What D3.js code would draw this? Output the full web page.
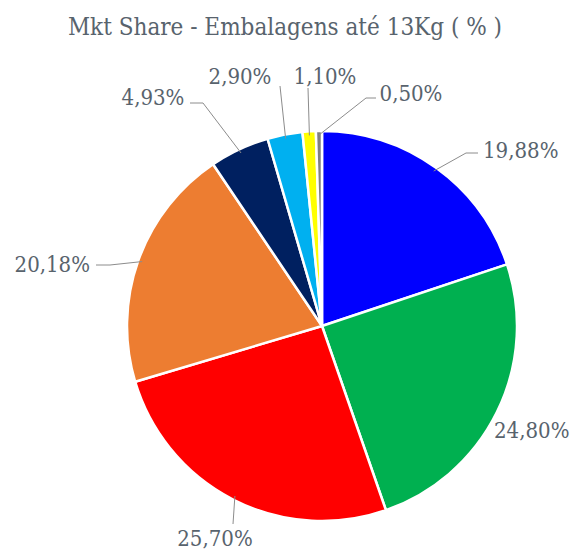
<!DOCTYPE html>
<html>
<head>
<meta charset="utf-8">
<script src="https://cdn.jsdelivr.net/npm/d3@7"></script>
<style>
  body { margin: 0; background: #fff; }
  text { font-family: "DejaVu Serif Condensed", "DejaVu Serif", serif; font-stretch: condensed; fill: #58636d; }
</style>
</head>
<body>
<div id="chart"></div>
<script>
// data
const categories = ['A', 'B', 'C', 'D', 'E', 'F', 'G', 'H'];
const shares = [19.88, 24.80, 25.70, 20.18, 4.93, 2.90, 1.10, 0.50];
const labels = ['19,88%', '24,80%', '25,70%', '20,18%', '4,93%', '2,90%', '1,10%', '0,50%'];
const colors = ['#0000ff', '#00b050', '#ff0000', '#ed7d31', '#002060', '#00b0f0', '#ffff00', '#808080'];

// label layout: text anchor point, alignment, and leader elbow (null = no leader)
const labelPos = [
  { x: 483, y: 158, anchor: 'start', elbow: [466, 153], end: [478, 153] },
  { x: 494, y: 438, anchor: 'start', elbow: null },
  { x: 215, y: 546, anchor: 'middle', elbow: [233, 524], end: [233, 524] },
  { x: 90, y: 272, anchor: 'end', elbow: [110, 265], end: [96, 265] },
  { x: 153, y: 105, anchor: 'middle', elbow: [203, 103], end: [190, 103] },
  { x: 240, y: 84, anchor: 'middle', elbow: [280, 86], end: [280, 86] },
  { x: 325, y: 84, anchor: 'middle', elbow: [308, 88], end: [308, 88] },
  { x: 411, y: 101, anchor: 'middle', elbow: [366, 98], end: [376, 98] }
];

const width = 579;
const height = 551;
const cx = 322;
const cy = 326;
const radius = 195;

const svg = d3.select('#chart').append('svg')
  .attr('width', width)
  .attr('height', height);

svg.append('text')
  .attr('x', 285)
  .attr('y', 35)
  .attr('text-anchor', 'middle')
  .style('font-size', '24px')
  .text('Mkt Share - Embalagens até 13Kg ( % )');

const pie = d3.pie().sort(null).value(d => d);
const arcs = pie(shares);
const arc = d3.arc().innerRadius(0).outerRadius(radius);

const $vis = svg.append('g').attr('transform', `translate(${cx},${cy})`);

$vis.selectAll('.slice')
  .data(arcs)
  .enter()
  .append('path')
  .attr('class', 'slice')
  .attr('d', arc)
  .attr('fill', (d, i) => colors[i])
  .attr('stroke', '#fff')
  .attr('stroke-width', 2.5)
  .attr('stroke-linejoin', 'round');

// leader lines
svg.selectAll('.leader')
  .data(arcs.filter((d, i) => labelPos[i].elbow))
  .enter()
  .append('polyline')
  .attr('class', 'leader')
  .attr('fill', 'none')
  .attr('stroke', '#8c8c8c')
  .attr('stroke-width', 1)
  .attr('points', d => {
    const lp = labelPos[d.index];
    const mid = (d.startAngle + d.endAngle) / 2;
    const r = radius - 4;
    const p = [cx + r * Math.sin(mid), cy - r * Math.cos(mid)];
    return [p, lp.elbow, lp.end].map(q => q.join(',')).join(' ');
  });

svg.selectAll('.label')
  .data(arcs)
  .enter()
  .append('text')
  .attr('class', 'label')
  .attr('x', (d, i) => labelPos[i].x)
  .attr('y', (d, i) => labelPos[i].y)
  .attr('text-anchor', (d, i) => labelPos[i].anchor)
  .style('font-size', '22px')
  .text((d, i) => labels[i]);
</script>
</body>
</html>
